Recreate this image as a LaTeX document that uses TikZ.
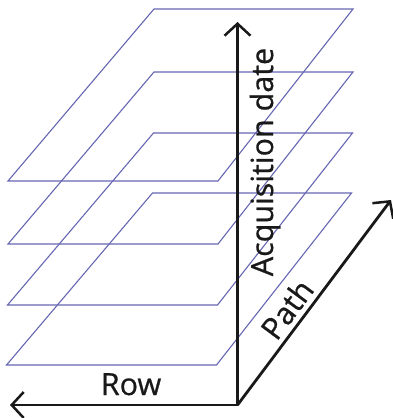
\documentclass[tikz,border=0pt]{standalone}
\usepackage{fontspec}
\newfontfamily\labelfont{Open Sans}[UprightFeatures={FakeBold=0.7}]
\usetikzlibrary{arrows.meta}
\definecolor{planeblue}{RGB}{102,102,178}
\tikzset{
  plane/.style={draw=planeblue, line width=1.1pt, line join=miter},
  axis/.style={draw=black!90, line width=2.8pt, -{Straight Barb[length=12pt,width=26pt,line width=2.5pt]}},
  axlabel/.style={font=\labelfont\fontsize{30.5}{37}\selectfont, text=black!90, inner sep=0pt}
}
\begin{document}
\begin{tikzpicture}[x=1pt,y=-1pt]
\useasboundingbox (0,0) rectangle (393,418);
% planes
\foreach \y/\s in {9/0, 72/0, 133/-0.5, 193/-1.5} {
  \draw[plane] (154+\s,\y) -- (353+\s,\y) -- (218+\s,\y+172) -- (8+\s,\y+172) -- cycle;
}
% axes
\coordinate (o) at (237.5,405);
\coordinate (up) at (237.5,22);
\coordinate (left) at (10,405);
\coordinate (diag) at (391,200);
\draw[axis] (o) -- (up);
\draw[axis] (o) -- (left);
\draw[axis] (o) -- (diag);
% labels
\node[axlabel, rotate=90, anchor=base] (acq) at (273,162) {Acquisition date};
\node[axlabel, anchor=base] (row) at (131,395) {Row};
\node[axlabel, rotate=53.4, anchor=base] (path) at (296,316) {Path};
\end{tikzpicture}
\end{document}
